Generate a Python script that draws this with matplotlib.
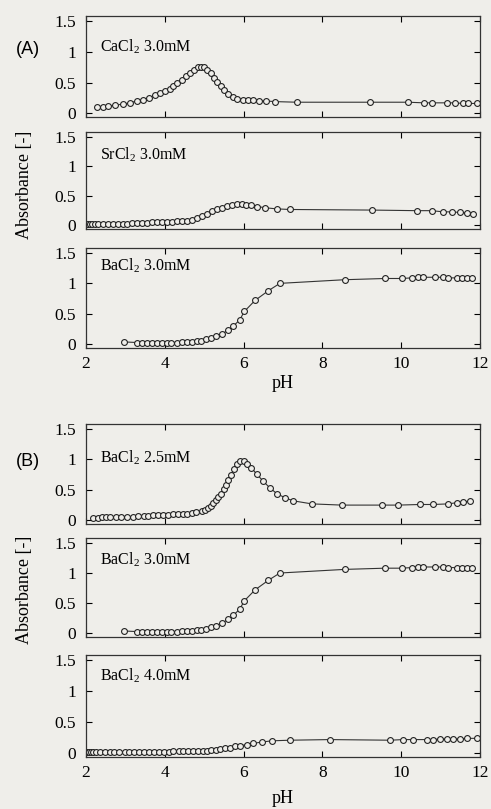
import matplotlib
matplotlib.use("Agg")
import matplotlib.pyplot as plt

# --- data (pH vs absorbance) ---
ph_ca30 = [2.27, 2.42, 2.57, 2.74, 2.93, 3.12, 3.29, 3.45, 3.60, 3.75, 3.88, 4.01, 4.12, 4.22,
           4.32, 4.43, 4.54, 4.64, 4.74, 4.83, 4.91, 5.00, 5.08, 5.17, 5.25, 5.33, 5.42, 5.50,
           5.61, 5.72, 5.84, 5.98, 6.12, 6.25, 6.40, 6.57, 6.80, 7.35, 9.21, 10.18, 10.57,
           10.77, 11.15, 11.37, 11.57, 11.70, 11.92]
abs_ca30 = [0.10, 0.11, 0.12, 0.13, 0.15, 0.17, 0.20, 0.22, 0.25, 0.30, 0.33, 0.36, 0.40, 0.44,
            0.49, 0.54, 0.60, 0.66, 0.71, 0.75, 0.76, 0.75, 0.71, 0.65, 0.58, 0.51, 0.44, 0.38,
            0.32, 0.27, 0.24, 0.22, 0.21, 0.21, 0.20, 0.20, 0.19, 0.18, 0.18, 0.18, 0.17,
            0.17, 0.17, 0.17, 0.16, 0.16, 0.16]

ph_sr30 = [2.00, 2.05, 2.10, 2.16, 2.22, 2.30, 2.42, 2.55, 2.68, 2.80, 2.93, 3.05, 3.18, 3.30,
           3.43, 3.56, 3.68, 3.81, 3.94, 4.06, 4.19, 4.32, 4.44, 4.57, 4.70, 4.82, 4.95, 5.07,
           5.20, 5.32, 5.45, 5.57, 5.70, 5.82, 5.95, 6.07, 6.20, 6.35, 6.54, 6.84, 7.18, 9.25,
           10.39, 10.77, 11.07, 11.28, 11.49, 11.66, 11.83]
abs_sr30 = [0.03, 0.03, 0.02, 0.03, 0.02, 0.03, 0.02, 0.02, 0.03, 0.03, 0.03, 0.03, 0.04, 0.04,
            0.04, 0.04, 0.05, 0.05, 0.05, 0.06, 0.06, 0.07, 0.07, 0.08, 0.10, 0.13, 0.16, 0.20,
            0.24, 0.27, 0.30, 0.33, 0.35, 0.36, 0.36, 0.35, 0.34, 0.32, 0.30, 0.28, 0.27, 0.26,
            0.25, 0.25, 0.23, 0.23, 0.22, 0.21, 0.20]

ph_ba30 = [2.96, 3.29, 3.42, 3.54, 3.67, 3.79, 3.92, 4.05, 4.17, 4.30, 4.43, 4.56, 4.68, 4.81,
           4.93, 5.05, 5.17, 5.30, 5.45, 5.60, 5.74, 5.90, 6.02, 6.29, 6.63, 6.92, 8.57, 9.59,
           10.01, 10.27, 10.43, 10.56, 10.86, 11.07, 11.20, 11.41, 11.54, 11.66, 11.79]
abs_ba30 = [0.04, 0.03, 0.03, 0.03, 0.03, 0.03, 0.03, 0.03, 0.03, 0.03, 0.04, 0.04, 0.04, 0.05,
            0.06, 0.08, 0.10, 0.13, 0.17, 0.23, 0.30, 0.40, 0.54, 0.72, 0.88, 1.00, 1.06, 1.08,
            1.08, 1.09, 1.10, 1.10, 1.10, 1.10, 1.09, 1.09, 1.09, 1.08, 1.08]

ph_ba25 = [2.19, 2.30, 2.40, 2.50, 2.62, 2.75, 2.90, 3.05, 3.20, 3.33, 3.46, 3.58, 3.71, 3.84,
           3.96, 4.09, 4.22, 4.34, 4.46, 4.56, 4.68, 4.80, 4.94, 5.02, 5.10, 5.17, 5.23, 5.30,
           5.36, 5.42, 5.49, 5.55, 5.61, 5.68, 5.76, 5.84, 5.92, 6.00, 6.08, 6.20, 6.33, 6.50,
           6.67, 6.84, 7.05, 7.26, 7.73, 8.49, 9.50, 9.93, 10.48, 10.81, 11.20, 11.41, 11.58,
           11.75]
abs_ba25 = [0.04, 0.04, 0.05, 0.05, 0.05, 0.05, 0.06, 0.06, 0.06, 0.07, 0.07, 0.07, 0.08, 0.08,
            0.09, 0.09, 0.10, 0.10, 0.11, 0.11, 0.12, 0.13, 0.15, 0.17, 0.20, 0.24, 0.28, 0.33,
            0.38, 0.44, 0.51, 0.58, 0.66, 0.74, 0.84, 0.93, 0.97, 0.97, 0.93, 0.86, 0.76, 0.64,
            0.53, 0.44, 0.37, 0.32, 0.27, 0.25, 0.25, 0.25, 0.26, 0.26, 0.27, 0.29, 0.30,
            0.32]

ph_ba40 = [2.02, 2.07, 2.12, 2.18, 2.25, 2.35, 2.47, 2.60, 2.72, 2.85, 2.98, 3.10, 3.22, 3.35,
           3.47, 3.60, 3.72, 3.85, 3.97, 4.10, 4.22, 4.35, 4.47, 4.60, 4.72, 4.85, 4.96, 5.06,
           5.18, 5.29, 5.40, 5.52, 5.65, 5.78, 5.91, 6.08, 6.25, 6.46, 6.71, 7.18, 8.19, 9.72,
           10.05, 10.31, 10.65, 10.81, 10.98, 11.15, 11.32, 11.49, 11.66, 11.92]
abs_ba40 = [0.02, 0.02, 0.02, 0.02, 0.02, 0.02, 0.02, 0.02, 0.02, 0.02, 0.02, 0.02, 0.02, 0.02,
            0.02, 0.02, 0.02, 0.02, 0.02, 0.02, 0.03, 0.03, 0.03, 0.03, 0.03, 0.03, 0.03, 0.04,
            0.05, 0.06, 0.07, 0.08, 0.09, 0.11, 0.12, 0.14, 0.16, 0.18, 0.20, 0.21, 0.22, 0.21,
            0.22, 0.22, 0.22, 0.22, 0.23, 0.23, 0.23, 0.23, 0.24, 0.24]

labels_a = ["CaCl$_2$ 3.0mM", "SrCl$_2$ 3.0mM", "BaCl$_2$ 3.0mM"]
labels_b = ["BaCl$_2$ 2.5mM", "BaCl$_2$ 3.0mM", "BaCl$_2$ 4.0mM"]
y_ticks = [0, 0.5, 1, 1.5]
y_tick_labels = ["0", "0.5", "1", "1.5"]
x_ticks = [2, 4, 6, 8, 10, 12]

plt.rcParams["font.family"] = ["Liberation Serif", "DejaVu Serif"]
plt.rcParams["mathtext.fontset"] = "custom"
plt.rcParams["mathtext.rm"] = "Liberation Serif"
plt.rcParams["mathtext.it"] = "Liberation Serif:italic"

bg = "#efeeea"
fig = plt.figure(figsize=(4.91, 8.09), dpi=100, facecolor=bg)

W, H = 491.0, 809.0
left, width = 86 / W, 394 / W
# (top px, bottom px) of each panel
boxes = [(16, 117), (132, 229), (248, 348), (424, 524), (538, 637), (655, 757)]
series = [(ph_ca30, abs_ca30), (ph_sr30, abs_sr30), (ph_ba30, abs_ba30),
          (ph_ba25, abs_ba25), (ph_ba30, abs_ba30), (ph_ba40, abs_ba40)]
labels = labels_a + labels_b
label_y = [0.70, 0.76, 0.82, 0.66, 0.78, 0.80]

for i, ((top, bot), (xs, ys)) in enumerate(zip(boxes, series)):
    ax = fig.add_axes([left, 1 - bot / H, width, (bot - top) / H], facecolor=bg)
    ax.plot(xs, ys, "-", color="#333333", lw=0.8,
            marker="o", ms=4.2, mfc=bg, mec="#222222", mew=0.8)
    ax.set_xlim(2, 12)
    ax.set_ylim(-0.06, 1.58)
    ax.set_xticks(x_ticks)
    ax.set_yticks(y_ticks)
    ax.set_yticklabels(y_tick_labels)
    ax.tick_params(direction="in", top=True, right=True, length=4, width=0.8,
                   labelsize=12.5)
    ax.tick_params(axis="y", pad=7)
    ax.tick_params(axis="x", pad=6)
    for s in ax.spines.values():
        s.set_linewidth(0.9)
        s.set_color("#333333")
    if i == 2:
        ax.set_xlabel("pH", fontsize=13, labelpad=2)
    elif i == 5:
        ax.set_xlabel("pH", fontsize=13, labelpad=6)
    else:
        ax.set_xticklabels([])
    ax.text(0.036, label_y[i], labels[i], transform=ax.transAxes,
            fontsize=11.5, va="center", ha="left")

fig.text(25 / W, 1 - 185 / H, "Absorbance [-]", rotation=90, fontsize=13,
         ha="center", va="center")
fig.text(25 / W, 1 - 590 / H, "Absorbance [-]", rotation=90, fontsize=13,
         ha="center", va="center")
fig.text(28 / W, 1 - 50 / H, "(A)", fontsize=13, ha="center", va="center",
         family="Liberation Sans")
fig.text(28 / W, 1 - 462 / H, "(B)", fontsize=13, ha="center", va="center",
         family="Liberation Sans")

fig.savefig("out.png", dpi=100, facecolor=bg)
